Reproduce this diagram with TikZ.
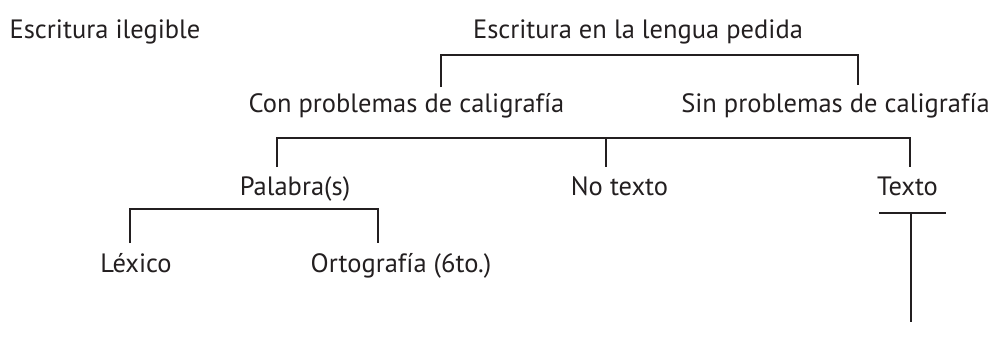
\documentclass[tikz,border=0pt]{standalone}
\usepackage{fontspec}
\setmainfont{PT Sans}
\definecolor{ink}{HTML}{231F20}
\tikzset{
  lbl/.style={anchor=base,inner sep=0pt,text=ink,font=\fontsize{26.5}{30}\selectfont},
  brk/.style={line width=2.4pt,draw=ink}
}
\begin{document}
\begin{tikzpicture}[x=1pt,y=-1pt]
\useasboundingbox (0,0) rectangle (992,349);
% labels
\node[lbl] (ileg) at (105,38) {Escritura ilegible};
\node[lbl] (lengua) at (638,38) {Escritura en la lengua pedida};
\node[lbl] (con) at (406.5,112) {Con problemas de caligrafía};
\node[lbl] (sin) at (835.5,112) {Sin problemas de caligrafía};
\node[lbl] (pal) at (295,195) {Palabra(s)};
\node[lbl] (notx) at (619.5,195) {No texto};
\node[lbl] (tx) at (907.5,195) {Texto};
\node[lbl] (lex) at (136,272) {Léxico};
\node[lbl] (orto) at (401,272) {Ortografía (6to.)};
% bracket corners
\coordinate (conT) at (441,87);
\coordinate (sinT) at (858,85);
\coordinate (palT) at (277,167);
\coordinate (notxT) at (606,167);
\coordinate (txT) at (910,167);
\coordinate (lexT) at (130,243);
\coordinate (ortoT) at (378,243);
\coordinate (barL) at (879,213);
\coordinate (barR) at (946,213);
\coordinate (barM) at (911,213);
\coordinate (barE) at (911,322);
% brackets
\draw[brk] (conT) |- (sinT |- 0,55) -- (sinT);
\draw[brk] (palT) |- (txT |- 0,138) -- (txT);
\draw[brk] (notxT |- 0,138) -- (notxT);
\draw[brk] (lexT) |- (ortoT |- 0,209) -- (ortoT);
\draw[brk] (barL) -- (barR);
\draw[brk] (barM) -- (barE);
\end{tikzpicture}
\end{document}
